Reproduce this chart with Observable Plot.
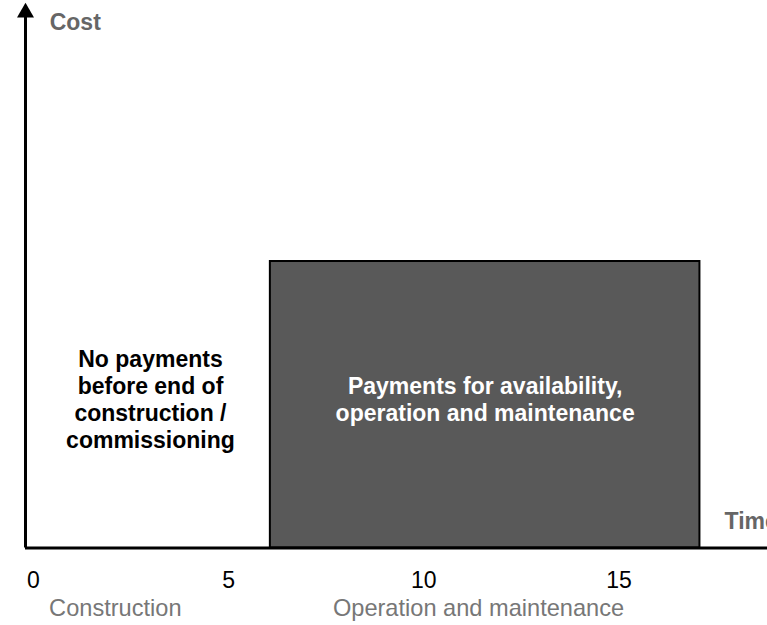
<!DOCTYPE html>
<html>
<head>
<meta charset="utf-8">
<script src="https://cdn.jsdelivr.net/npm/d3@7"></script>
<script src="https://cdn.jsdelivr.net/npm/@observablehq/plot@0.6"></script>
<style>
  html, body { margin: 0; padding: 0; background: #fff; }
  #chart svg { display: block; }
</style>
</head>
<body>
<div id="chart"></div>
<script>
// ---- data ----
const xTicks = [0, 5, 10, 15];
const paymentBlocks = [{start: 6.07, end: 17.07, cost: 53.5, label: "Payments for availability,\noperation and maintenance"}];
const noPaymentNotes = [{x: 3, cost: 27.8, label: "No payments\nbefore end of\nconstruction /\ncommissioning"}];
const phases = [
  {label: "Construction", x: 2.1},
  {label: "Operation and maintenance", x: 11.4}
];
const axisTitles = [
  {label: "Cost", x: 0.42, cost: 98.2},
  {label: "Time", x: 17.7, cost: 4.9}
];
const xOrigin = -0.2;
const xEnd = 18.8;
const costMax = 100;

const font = "'Liberation Sans', Arial, Helvetica, sans-serif";

const chart = Plot.plot({
  width: 767,
  height: 625,
  marginLeft: 25,
  marginRight: 0,
  marginTop: 12,
  marginBottom: 77.5,
  style: {fontFamily: font, background: "#fff", overflow: "visible"},
  x: {domain: [xOrigin, xEnd]},
  y: {domain: [0, costMax], axis: null},
  marks: [
    Plot.rect(paymentBlocks, {x1: "start", x2: "end", y1: 0, y2: "cost", fill: "#595959", stroke: "#000", strokeWidth: 2}),
    Plot.text(paymentBlocks, {x: d => (d.start + d.end) / 2, y: d => d.cost * 0.52, text: "label", fill: "#fff", fontWeight: "bold", fontSize: 23, lineHeight: 1.17}),
    Plot.text(noPaymentNotes, {x: "x", y: "cost", text: "label", fill: "#000", fontWeight: "bold", fontSize: 23, lineHeight: 1.17}),
    Plot.ruleY([0], {x1: xOrigin, x2: xEnd, stroke: "#000", strokeWidth: 3}),
    Plot.ruleX([xOrigin], {y1: 0, y2: costMax, stroke: "#000", strokeWidth: 3}),
    Plot.dot([{x: xOrigin, y: costMax}], {x: "x", y: "y", symbol: "triangle", r: 6.3, fill: "#000", stroke: "none"}),
    Plot.text(axisTitles, {x: "x", y: "cost", text: "label", fill: "#666", fontWeight: "bold", fontSize: 23, textAnchor: "start"}),
    Plot.axisX(xTicks, {tickSize: 0, tickPadding: 24, fontSize: 23, fill: "#000", label: null}),
    Plot.text(phases, {x: "x", y: 0, text: "label", dy: 60, fill: "#777", fontSize: 23.6})
  ]
});
document.getElementById("chart").appendChild(chart);
</script>
</body>
</html>
